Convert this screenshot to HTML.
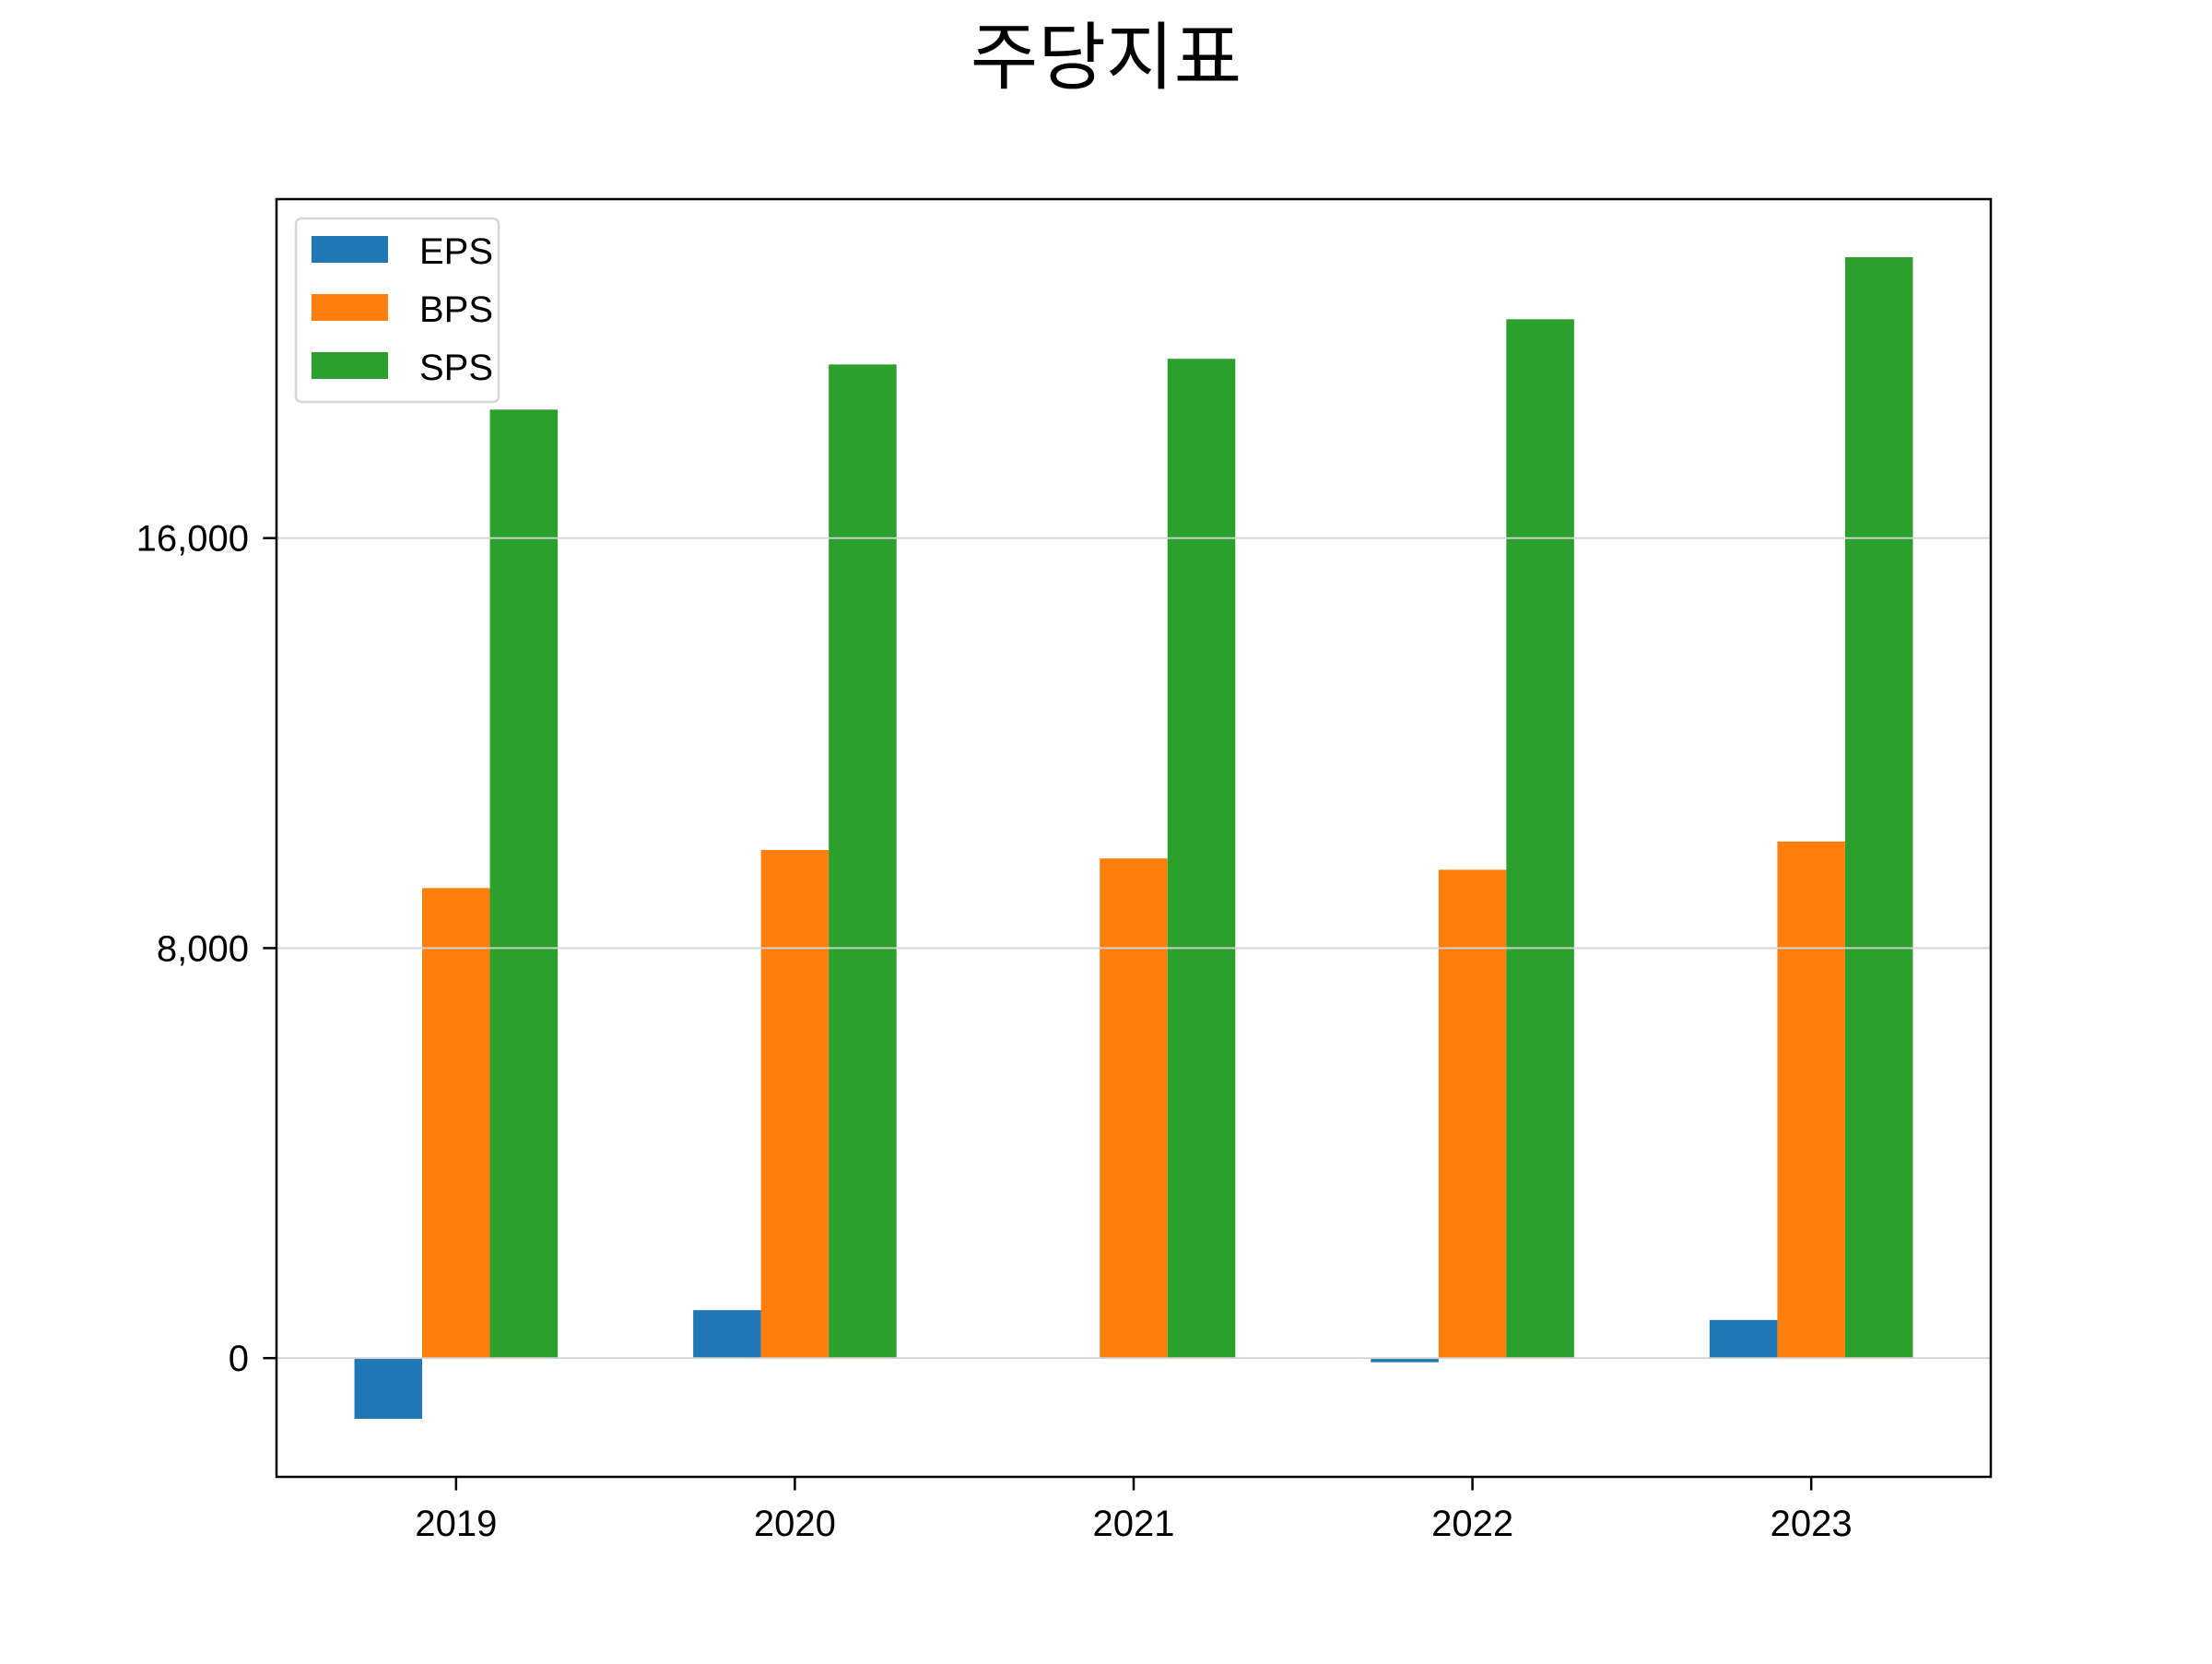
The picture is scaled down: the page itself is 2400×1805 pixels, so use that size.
<!DOCTYPE html>
<html><head><meta charset="utf-8"><style>
html,body{margin:0;padding:0;background:#fff;}
text{font-family:"Liberation Sans","Noto Sans CJK KR",sans-serif;}
</style></head><body>
<svg id="chart" width="2400" height="1800" xmlns="http://www.w3.org/2000/svg">
<rect width="2400" height="1800" fill="#fff"/>
<text x="1200" y="90" font-size="80" text-anchor="middle" style="font-family:'Noto Sans CJK KR',sans-serif">주당지표</text>
<g id="bars"></g>
<g id="grid"></g>
<rect x="300" y="216" width="1860" height="1386" fill="none" stroke="#000" stroke-width="2.5"/>
<g id="axes"></g>
<g id="legend">
<rect x="321" y="237" width="220" height="199" rx="6" fill="#fff" stroke="#d6d6d6" stroke-width="2.5" fill-opacity="0.8"/>
<rect x="338" y="256" width="83" height="29" fill="#1f77b4"/>
<text x="455" y="286" font-size="40">EPS</text>
<rect x="338" y="319" width="83" height="29" fill="#ff7f0e"/>
<text x="455" y="349" font-size="40">BPS</text>
<rect x="338" y="382" width="83" height="29" fill="#2ca02c"/>
<text x="455" y="412" font-size="40">SPS</text>
</g>
</svg>
<script>
const categories = ["2019","2020","2021","2022","2023"];
const epsValues = [-1184, 936, 0, -80, 744];
const bpsValues = [9171, 9914, 9749, 9529, 10080];
const spsValues = [18507, 19388, 19498, 20270, 21481];
const yTicks = [0, 8000, 16000];
const yTickLabels = ["0", "8,000", "16,000"];

const NS = "http://www.w3.org/2000/svg";
const L = 300, R = 2160, T = 216, B = 1602;
const xMin = -0.53, xMax = 4.53, yMin = -2317, yMax = 22614;
function xs(v){ return L + (v - xMin) / (xMax - xMin) * (R - L); }
function ys(v){ return B - (v - yMin) / (yMax - yMin) * (B - T); }
function mk(tag, attrs, parent){
  const e = document.createElementNS(NS, tag);
  for (const k in attrs) e.setAttribute(k, attrs[k]);
  parent.appendChild(e);
  return e;
}
const bars = document.getElementById("bars");
const series = [["eps", epsValues, "#1f77b4", -0.2], ["bps", bpsValues, "#ff7f0e", 0], ["sps", spsValues, "#2ca02c", 0.2]];
const w = 0.2;
series.forEach(s => {
  s[1].forEach((v, i) => {
    const x0 = xs(i + s[3] - w / 2), x1 = xs(i + s[3] + w / 2);
    const y0 = ys(Math.max(v, 0)), y1 = ys(Math.min(v, 0));
    const r = mk("rect", {x: x0, y: y0, width: x1 - x0, height: Math.max(y1 - y0, 0), fill: s[2]}, bars);
    
    
  });
});
const grid = document.getElementById("grid");
const axes = document.getElementById("axes");
yTicks.forEach((t, i) => {
  const y = ys(t);
  const g = mk("line", {x1: L, x2: R, y1: y, y2: y, stroke: "#d3d3d3", "stroke-width": 1.8}, grid);
  
  
  const tk = mk("line", {x1: L - 14.6, x2: L, y1: y, y2: y, stroke: "#000", "stroke-width": 2.5}, axes);
  
  
  const tx = mk("text", {x: L - 30, y: y + 14, "font-size": 40, "text-anchor": "end"}, axes);
  tx.textContent = yTickLabels[i];
  
  
});
categories.forEach((c, i) => {
  const x = xs(i);
  const tk = mk("line", {x1: x, x2: x, y1: B, y2: B + 14.6, stroke: "#000", "stroke-width": 2.5}, axes);
  
  
  const tx = mk("text", {x: x, y: B + 64, "font-size": 40, "text-anchor": "middle"}, axes);
  tx.textContent = c;
  
  
});
</script>
</body></html>
